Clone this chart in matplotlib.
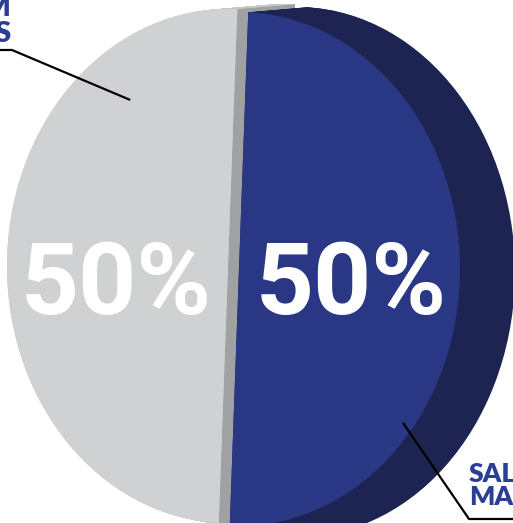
import numpy as np
import matplotlib
matplotlib.use('Agg')
import matplotlib.pyplot as plt
from matplotlib.patches import Wedge, Polygon
from matplotlib.transforms import Affine2D

# data
shares = [50, 50]                      # blue slice, grey slice
slice_colors = ['#293784', '#D0D1D3']
side_colors = ['#1E2452', '#C6C7C9']
wall_color = '#A0A1A3'
blue_label = ['SAL', 'MA']             # only the visible part of the names
grey_label = ['M', 'S']
label_color = '#2B3E95'

# layout of the tilted pie (pixels, y down)
FACE_C = (228, 266)
FACE_A, FACE_B = 221, 257
DEPTH = (58, 3)
GROW = (-3, 8)
BLUE_SHIFT = (11, 3)
START = 87.6


def pie_tf(t, shift=(0, 0)):
    cx = FACE_C[0] + shift[0] + DEPTH[0] * t
    cy = FACE_C[1] + shift[1] + DEPTH[1] * t
    a = FACE_A + GROW[0] * t
    b = FACE_B + GROW[1] * t
    return Affine2D().scale(a, -b).translate(cx, cy)


fig = plt.figure(figsize=(5.13, 5.23), dpi=100)
ax = fig.add_axes([0, 0, 1, 1])

wedges, _ = ax.pie(shares, colors=slice_colors, startangle=START,
                   counterclock=False, wedgeprops=dict(linewidth=0))
blue_w, grey_w = wedges

# extruded sides: sweep copies of each wedge from the back to the front
steps = np.linspace(1, 0, 70)
for t in steps:
    w = Wedge((0, 0), 1, grey_w.theta1, grey_w.theta2, color=side_colors[1], lw=0, zorder=1)
    ax.add_patch(w)
    w.set_transform(pie_tf(t) + ax.transData)

# flat wall of the grey slice, seen in the gap
ang = np.deg2rad([grey_w.theta1, grey_w.theta2])
ends = np.column_stack([np.cos(ang), np.sin(ang)])
front = pie_tf(0).transform(ends)
back = pie_tf(1).transform(ends)
ax.add_patch(Polygon([front[0], back[0], back[1], front[1]], closed=True,
                     color=wall_color, lw=0, zorder=2))

for t in steps:
    w = Wedge((0, 0), 1, blue_w.theta1, blue_w.theta2, color=side_colors[0], lw=0, zorder=3)
    ax.add_patch(w)
    w.set_transform(pie_tf(t, BLUE_SHIFT) + ax.transData)

grey_w.set_transform(pie_tf(0) + ax.transData)
grey_w.set_zorder(4)
blue_w.set_transform(pie_tf(0, BLUE_SHIFT) + ax.transData)
blue_w.set_zorder(4)

# percentages
total = sum(shares)
pct = ['{:.0f}%'.format(v / total * 100) for v in shares]
ax.text(351, 314, pct[0], color='white', fontsize=73, fontfamily='Roboto',
        fontweight='bold', ha='center', va='baseline', zorder=6)
ax.text(116, 314, pct[1], color='white', fontsize=73, fontfamily='Roboto',
        fontweight='bold', ha='center', va='baseline', zorder=6)

# leader lines
p_grey = pie_tf(0).transform([[0.783 * np.cos(np.deg2rad(124.4)), 0.783 * np.sin(np.deg2rad(124.4))]])[0]
p_blue = pie_tf(0, BLUE_SHIFT).transform([[0.954 * np.cos(np.deg2rad(-38.9)), 0.954 * np.sin(np.deg2rad(-38.9))]])[0]
ax.plot([p_grey[0], 12, -5], [p_grey[1], 50, 50], color='black', lw=1.6, zorder=7,
        solid_capstyle='butt', clip_on=False)
ax.plot([p_blue[0], 469, 520], [p_blue[1], 519, 519], color='black', lw=1.6, zorder=7,
        solid_capstyle='butt', clip_on=False)

# slice names (cut off by the figure edge, as in the source)
ax.text(10.5, 16, grey_label[0], color=label_color, fontsize=21, fontfamily='Lato',
        fontweight='heavy', ha='right', va='baseline', zorder=7)
ax.text(10.5, 42, grey_label[1], color=label_color, fontsize=21, fontfamily='Lato',
        fontweight='heavy', ha='right', va='baseline', zorder=7)
ax.text(469, 482, blue_label[0], color=label_color, fontsize=19, fontfamily='Lato',
        fontweight='heavy', ha='left', va='baseline', zorder=7)
ax.text(469, 505, blue_label[1], color=label_color, fontsize=19, fontfamily='Lato',
        fontweight='heavy', ha='left', va='baseline', zorder=7)

ax.set_aspect('auto')
ax.set_xlim(0, 513)
ax.set_ylim(523, 0)
ax.axis('off')

fig.savefig('out.png', dpi=100)
